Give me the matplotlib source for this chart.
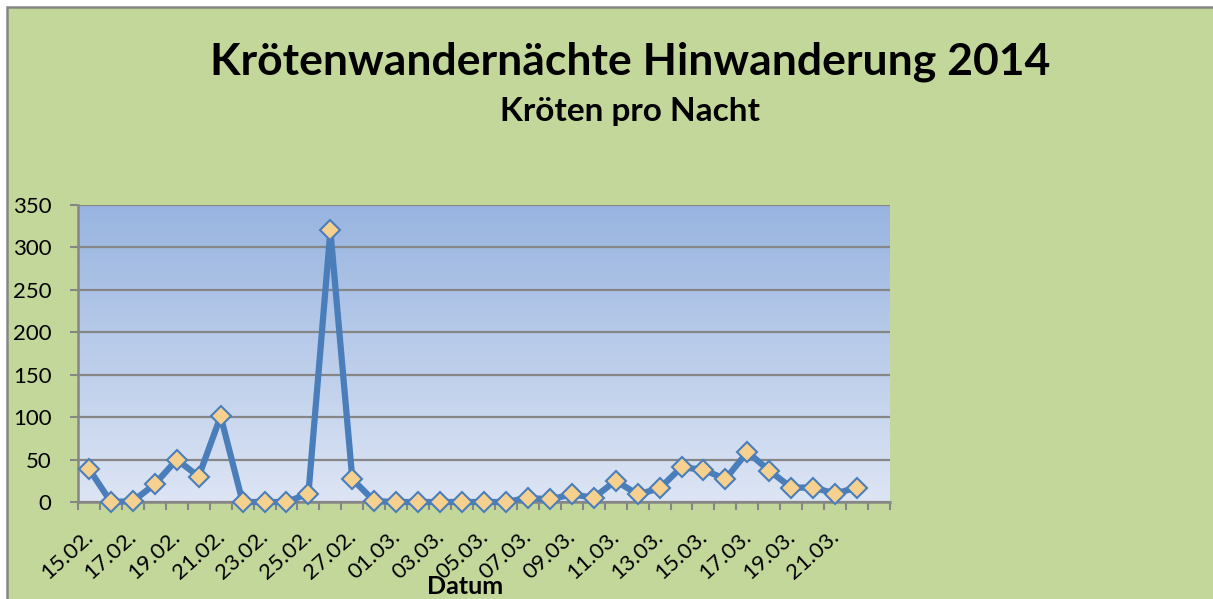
import matplotlib
matplotlib.use('Agg')
import matplotlib.pyplot as plt
import matplotlib.transforms as mtrans
import numpy as np
from matplotlib.patches import Rectangle

plt.rcParams['font.family'] = ['Lato', 'DejaVu Sans']

# Kroeten pro Nacht, 15.02. - 22.03.2014
dates = ['15.02.', '16.02.', '17.02.', '18.02.', '19.02.', '20.02.', '21.02.',
         '22.02.', '23.02.', '24.02.', '25.02.', '26.02.', '27.02.', '28.02.',
         '01.03.', '02.03.', '03.03.', '04.03.', '05.03.', '06.03.', '07.03.',
         '08.03.', '09.03.', '10.03.', '11.03.', '12.03.', '13.03.', '14.03.',
         '15.03.', '16.03.', '17.03.', '18.03.', '19.03.', '20.03.', '21.03.',
         '22.03.']
toads = [39, 0, 1, 21, 50, 30, 101, 0, 0, 0, 10, 320, 27, 1, 0, 0, 0, 0, 0, 0,
         5, 3, 9, 5, 25, 9, 16, 41, 38, 27, 59, 37, 17, 17, 10, 17]
n_slots = len(dates) + 1   # excel leaves one empty category at the end

bg = '#c4d79b'
grey = '#868686'

fig = plt.figure(figsize=(12.13, 5.99), dpi=100)
fig.patch.set_facecolor('white')
fig.patches.append(Rectangle((7 / 1213, -0.01), 1.01, 1 - 7 / 599 + 0.01,
                             transform=fig.transFigure, facecolor=bg,
                             edgecolor=grey, linewidth=1.8, zorder=-10))

ax = fig.add_axes([78 / 1213, 1 - 502 / 599, (890 - 78) / 1213, (502 - 205) / 599])
ax.set_facecolor('none')

# vertical gradient of the plot area
grad = np.linspace(0, 1, 256).reshape(-1, 1)
cmap = matplotlib.colors.LinearSegmentedColormap.from_list('g', ['#dde5f4', '#98b4e0'])
ax.imshow(grad, extent=[-0.5, n_slots - 0.5, 0, 350], origin='lower',
          aspect='auto', cmap=cmap, zorder=0)

x = np.arange(len(dates))
ax.plot(x, toads, color='#4a7ebb', lw=4.5, marker='D', ms=10.5,
        markerfacecolor='#f5d08e', markeredgecolor='#4a7ebb',
        markeredgewidth=1.5, clip_on=False, zorder=3)

ax.set_xlim(-0.5, n_slots - 0.5)
ax.set_ylim(0, 350)
ax.set_yticks(np.arange(0, 351, 50))
ax.yaxis.grid(True, color=grey, lw=1.6, zorder=1)
ax.set_axisbelow(False)

ax.set_xticks(np.arange(-0.5, n_slots, 1))
ax.set_xticklabels([])
ax.set_xticks(x[::2], minor=True)
ax.set_xticklabels(dates[::2], minor=True, rotation=42, ha='right', va='baseline',
                   rotation_mode='anchor', fontsize=16)
ax.tick_params(axis='x', which='minor', length=0, pad=26)
ax.tick_params(axis='x', which='major', length=6, width=1.5, color=grey)
ax.tick_params(axis='y', length=6, width=1.5, color=grey, labelsize=16, pad=13)

# excel puts the end of the rotated label a bit right of the category centre
shift = mtrans.ScaledTranslation(5 / 100, 0, fig.dpi_scale_trans)
for lab in ax.get_xticklabels(minor=True):
    lab.set_transform(lab.get_transform() + shift)

for s in ['top', 'right']:
    ax.spines[s].set_visible(False)
for s in ['left', 'bottom']:
    ax.spines[s].set_color(grey)
    ax.spines[s].set_linewidth(1.8)

fig.text(630 / 1213, 1 - 62 / 599, 'Krötenwandernächte Hinwanderung 2014',
         ha='center', va='center', fontsize=32, fontweight='bold')
fig.text(630 / 1213, 1 - 111 / 599, 'Kröten pro Nacht',
         ha='center', va='center', fontsize=24, fontweight='bold')
fig.text(465 / 1213, 1 - 587 / 599, 'Datum',
         ha='center', va='center', fontsize=18, fontweight='bold')

fig.savefig('out.png', dpi=100)
